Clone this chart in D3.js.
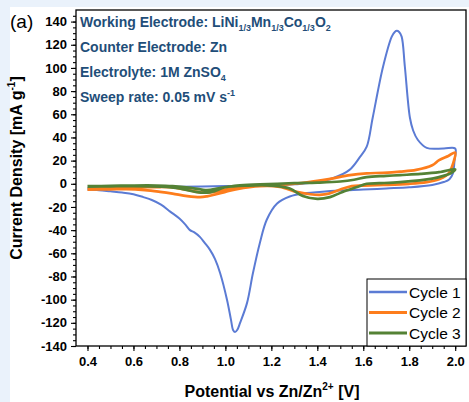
<!DOCTYPE html>
<html>
<head>
<meta charset="utf-8">
<script src="https://cdn.jsdelivr.net/npm/d3@7"></script>
<style>
  body { margin: 0; background: #eaf2fb; }
  svg { display: block; font-family: Arial, "Liberation Sans", sans-serif; }
</style>
</head>
<body>
<script>
// ciclo 1 (barrido anodico 0.4 -> 2.0 y luego catodico 2.0 -> 0.4)
var c1V = [0.4, 0.5, 0.6, 0.8, 1.0, 1.2, 1.3, 1.4, 1.47, 1.54, 1.585, 1.615, 1.641, 1.686, 1.724, 1.737, 1.746, 1.756, 1.767, 1.781, 1.803, 1.817, 1.837, 1.876, 1.95, 2.0,
           1.997, 1.99, 1.975, 1.95, 1.9, 1.8, 1.7, 1.6, 1.5, 1.41, 1.355, 1.28, 1.225, 1.18, 1.15, 1.12, 1.094, 1.064, 1.052, 1.042, 1.034, 1.024, 1.007, 0.977, 0.955,
           0.933, 0.91, 0.89, 0.865, 0.846, 0.825, 0.8, 0.76, 0.72, 0.68, 0.643, 0.6, 0.55, 0.5, 0.45, 0.4]
var c1I = [-4, -3.5, -3, -2.5, -2, -1.5, -0.5, 1.5, 5, 12, 23, 32, 57, 101, 127, 131, 132, 131, 127, 101, 57, 46, 38, 31, 30.5, 30.5,
           20, 9, 4, 1.5, -1, -3, -4, -5, -5.8, -7, -8, -11, -17, -31, -51, -77, -103, -120, -126, -128, -126.5, -117, -100, -77, -65,
           -57, -51, -46, -42, -40, -35, -30, -24, -18, -14, -11.5, -9, -7.5, -6.5, -5.5, -5]

// ciclo 2
var c2V = [0.4, 0.5, 0.6, 0.7, 0.76, 0.83, 0.9, 0.95, 1.0, 1.1, 1.2, 1.33, 1.45, 1.542, 1.615, 1.686, 1.76, 1.83, 1.9, 1.93, 1.97, 2.0,
           1.99, 1.975, 1.96, 1.93, 1.876, 1.8, 1.686, 1.6, 1.55, 1.5, 1.45, 1.41, 1.37, 1.31, 1.237, 1.15, 1.05, 1.0, 0.96, 0.92, 0.89,
           0.834, 0.77, 0.716, 0.65, 0.57, 0.5, 0.4]
var c2I = [-4.5, -3.5, -3, -2.8, -3, -5, -7.5, -7, -5, -2.5, -1.2, 0.6, 4, 7.5, 9, 9.5, 10.5, 12, 16, 20.5, 24, 27,
           17, 10, 7, 4, 1.5, 0, -1, -1.5, -2, -5, -8.5, -9.5, -9, -7, -2.6, -2, -4.6, -7, -9, -10.8, -11.5,
           -10.6, -8.5, -7, -5.5, -4.6, -4.8, -5]

// ciclo 3
var c3V = [0.4, 0.5, 0.6, 0.7, 0.77, 0.85, 0.92, 0.97, 1.05, 1.15, 1.3, 1.4, 1.5, 1.56, 1.615, 1.7, 1.76, 1.85, 1.93, 2.0,
           1.98, 1.96, 1.9, 1.76, 1.67, 1.615, 1.57, 1.51, 1.455, 1.4, 1.337, 1.28, 1.2, 1.1, 1.0, 0.95, 0.92, 0.87, 0.8, 0.72, 0.6, 0.5, 0.4]
var c3I = [-2, -1.8, -1.5, -1.5, -2, -3.5, -5.5, -4, -1.5, -0.5, 0.5, 1, 2, 3.5, 5.8, 6.8, 7.5, 8.5, 10, 12.5,
           9, 7.5, 4.5, 1.5, 0.5, 0, -3, -7, -11.5, -13, -10.6, -4, -1.5, -1.5, -3, -6.5, -7.7, -7, -4, -2.5, -2, -2.2, -2.5]

var xTicks = [0.4, 0.6, 0.8, 1.0, 1.2, 1.4, 1.6, 1.8, 2.0]
var yTicks = [-140, -120, -100, -80, -60, -40, -20, 0, 20, 40, 60, 80, 100, 120, 140]
var leyenda = ["Cycle 1", "Cycle 2", "Cycle 3"]

var width = 469
var height = 402
var margin = { top: 10, right: 3, bottom: 56, left: 76 }

var escalaX = d3.scaleLinear()
    .domain([0.35, 2.047])
    .range([margin.left, width - margin.right])

var escalaY = d3.scaleLinear()
    .domain([-140, 150])
    .range([height - margin.bottom, margin.top])

var colores = ["#5b7bd4", "#fd7d1c", "#548235"]
var grosores = [2, 2.7, 2.7]

var series = [
    d3.zip(c1V, c1I),
    d3.zip(c2V, c2I),
    d3.zip(c3V, c3I)
]

var svg = d3.select("body")
    .append("svg")
    .attr("width", width)
    .attr("height", height)

// panel blanco
svg.append("rect")
    .attr("x", 10).attr("y", 7)
    .attr("width", width - 10).attr("height", height - 7)
    .attr("fill", "white")

var linea = d3.line()
    .x(d => escalaX(d[0]))
    .y(d => escalaY(d[1]))
    .curve(d3.curveCatmullRom.alpha(0.5))

svg.append("g")
    .selectAll("path")
    .data(series)
    .enter()
    .append("path")
    .attr("d", linea)
    .attr("fill", "none")
    .attr("stroke", (d, i) => colores[i])
    .attr("stroke-width", (d, i) => grosores[i])
    .attr("stroke-linejoin", "round")

// ejes: ticks menores
var ejeXmenor = d3.axisBottom(escalaX)
    .tickValues(d3.range(0.4, 2.0001, 0.05))
    .tickSize(3)
    .tickFormat("")
svg.append("g")
    .attr("transform", "translate(0," + (height - margin.bottom) + ")")
    .call(ejeXmenor)

var ejeYmenor = d3.axisLeft(escalaY)
    .tickValues(d3.range(-140, 146, 5))
    .tickSize(3)
    .tickFormat("")
svg.append("g")
    .attr("transform", "translate(" + margin.left + ",0)")
    .call(ejeYmenor)

// ejes principales
var ejeX = d3.axisBottom(escalaX)
    .tickValues(xTicks)
    .tickSize(5)
    .tickPadding(6)
    .tickFormat(d3.format(".1f"))
svg.append("g")
    .attr("class", "ejeX")
    .attr("transform", "translate(0," + (height - margin.bottom) + ")")
    .call(ejeX)

var ejeY = d3.axisLeft(escalaY)
    .tickValues(yTicks)
    .tickSize(5)
    .tickPadding(4)
    .tickFormat(d => String(d))
svg.append("g")
    .attr("class", "ejeY")
    .attr("transform", "translate(" + margin.left + ",0)")
    .call(ejeY)

svg.selectAll(".domain").remove()
svg.selectAll(".tick line").attr("stroke", "black").attr("stroke-width", 1.1)
svg.selectAll(".ejeX text, .ejeY text")
    .attr("font-size", 13)
    .attr("font-weight", "bold")
    .attr("fill", "black")
    .attr("font-family", "Arial, 'Liberation Sans', sans-serif")

// marco
svg.append("rect")
    .attr("x", margin.left)
    .attr("y", margin.top)
    .attr("width", width - margin.right - margin.left)
    .attr("height", height - margin.bottom - margin.top)
    .attr("fill", "none")
    .attr("stroke", "black")
    .attr("stroke-width", 1.3)

// leyenda
var lx = 367, ly = 279
svg.append("rect")
    .attr("x", lx).attr("y", ly)
    .attr("width", width - margin.right - lx)
    .attr("height", height - margin.bottom - ly)
    .attr("fill", "white")
    .attr("stroke", "black")
    .attr("stroke-width", 1)

var itemLey = svg.append("g")
    .selectAll("g")
    .data(leyenda)
    .enter()
    .append("g")
    .attr("transform", (d, i) => "translate(" + lx + "," + (ly + 13 + i * 20.5) + ")")

itemLey.append("line")
    .attr("x1", 2).attr("x2", 40)
    .attr("stroke", (d, i) => colores[i])
    .attr("stroke-width", (d, i) => grosores[i] + 0.3)

itemLey.append("text")
    .attr("x", 42)
    .attr("y", 5.5)
    .attr("font-size", 15.5)
    .text(d => d)

// textos de la anotacion
var azul = "#1f4e79"
var anot = svg.append("g")
    .attr("fill", azul)
    .attr("font-weight", "bold")
    .attr("font-size", 14)

var t1 = anot.append("text").attr("x", 80).attr("y", 27)
t1.append("tspan").text("Working Electrode: LiNi")
t1.append("tspan").attr("font-size", 9).attr("dy", 4).text("1/3")
t1.append("tspan").attr("dy", -4).text("Mn")
t1.append("tspan").attr("font-size", 9).attr("dy", 4).text("1/3")
t1.append("tspan").attr("dy", -4).text("Co")
t1.append("tspan").attr("font-size", 9).attr("dy", 4).text("1/3")
t1.append("tspan").attr("dy", -4).text("O")
t1.append("tspan").attr("font-size", 9).attr("dy", 4).text("2")

anot.append("text").attr("x", 80).attr("y", 52).text("Counter Electrode: Zn")

var t3 = anot.append("text").attr("x", 80).attr("y", 77)
t3.append("tspan").text("Electrolyte: 1M ZnSO")
t3.append("tspan").attr("font-size", 9).attr("dy", 4).text("4")

var t4 = anot.append("text").attr("x", 80).attr("y", 102)
t4.append("tspan").text("Sweep rate: 0.05 mV s")
t4.append("tspan").attr("font-size", 9).attr("dy", -6).text("-1")

// (a)
svg.append("text")
    .attr("x", 10).attr("y", 28)
    .attr("font-size", 19)
    .text("(a)")

// titulos de los ejes
var tx = svg.append("text")
    .attr("x", 272).attr("y", 397)
    .attr("text-anchor", "middle")
    .attr("font-size", 16)
    .attr("font-weight", "bold")
tx.append("tspan").text("Potential vs Zn/Zn")
tx.append("tspan").attr("font-size", 10).attr("dy", -7).text("2+")
tx.append("tspan").attr("dy", 7).text(" [V]")

var ty = svg.append("text")
    .attr("transform", "translate(22,168) rotate(-90)")
    .attr("text-anchor", "middle")
    .attr("font-size", 16)
    .attr("font-weight", "bold")
ty.append("tspan").text("Current Density [mA g")
ty.append("tspan").attr("font-size", 10).attr("dy", -7).text("-1")
ty.append("tspan").attr("dy", 7).text("]")
</script>
</body>
</html>
